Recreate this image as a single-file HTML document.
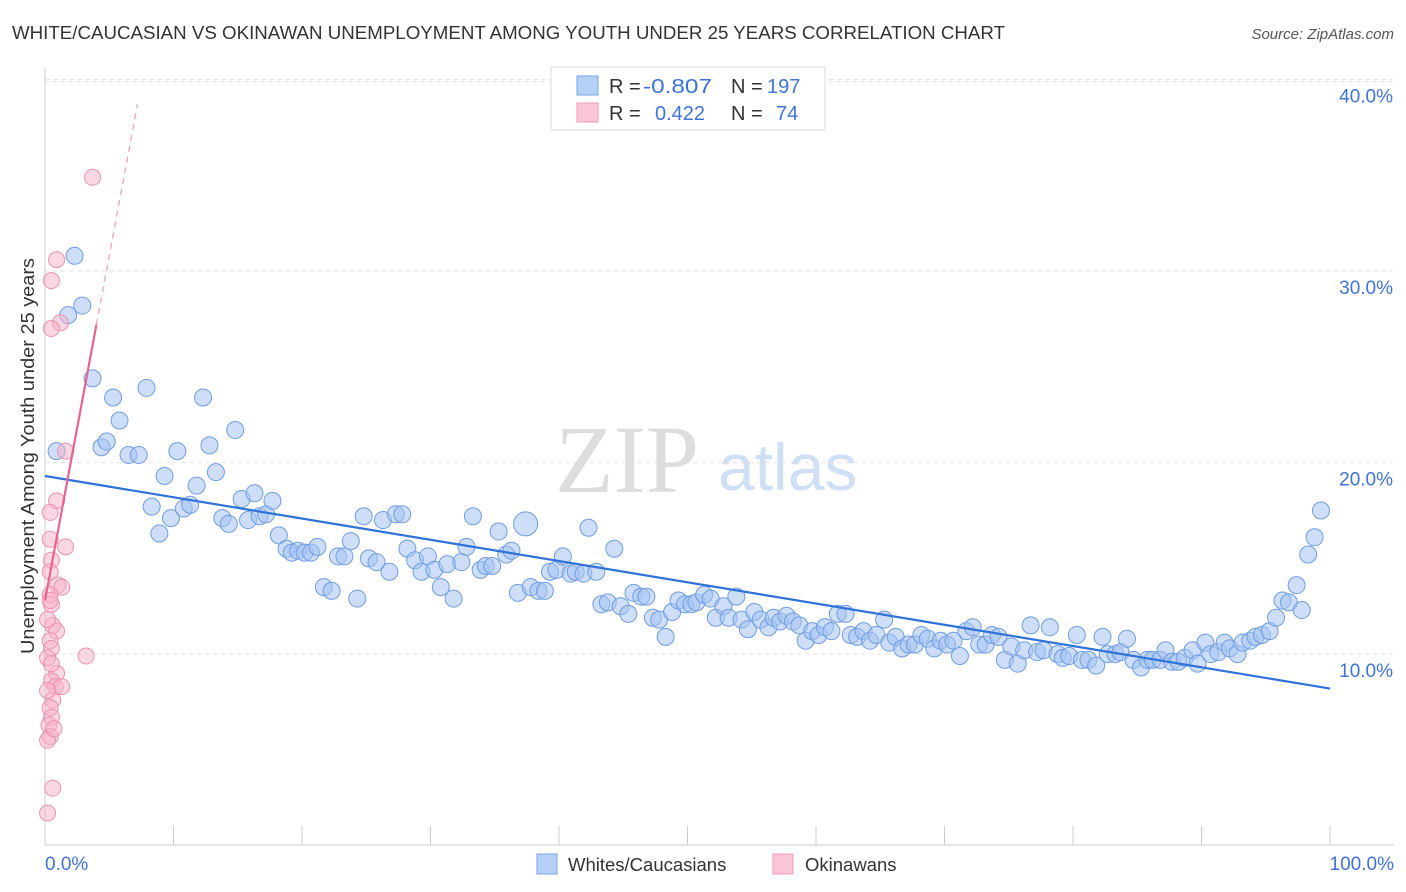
<!DOCTYPE html>
<html><head><meta charset="utf-8"><style>
body{margin:0;background:#fff;width:1406px;height:892px;overflow:hidden;font-family:"Liberation Sans",sans-serif}
svg{position:absolute;left:0;top:0}
</style></head><body>
<svg id="chart" width="1406" height="892">
<text x="12" y="39" font-size="18" fill="#333" textLength="993" lengthAdjust="spacingAndGlyphs">WHITE/CAUCASIAN VS OKINAWAN UNEMPLOYMENT AMONG YOUTH UNDER 25 YEARS CORRELATION CHART</text>
<text x="1394" y="39" font-size="15" fill="#555" font-style="italic" text-anchor="end">Source: ZipAtlas.com</text>
<text x="555" y="492" font-size="96" fill="#ddd" font-family="Liberation Serif,serif">ZIP</text>
<text x="718" y="490" font-size="66" fill="#cfe0f5">atlas</text>
<text x="-654" y="34" transform="rotate(-90)" font-size="18" fill="#333" textLength="396" lengthAdjust="spacingAndGlyphs">Unemployment Among Youth under 25 years</text>
<g id="grid"></g><g id="pts"></g><g id="trend"></g>
<g>
<rect x="551" y="67" width="274" height="63" fill="#fff" stroke="#ddd"/>
<rect x="577" y="76" width="21" height="19" fill="#b7d0f5" stroke="#7aa6e6"/>
<rect x="577" y="103" width="21" height="19" fill="#f9c7d7" stroke="#ee9ab5"/>
<text x="609" y="93" font-size="20" fill="#333">R = <tspan x="643" fill="#3f74d6" textLength="69" lengthAdjust="spacingAndGlyphs">-0.807</tspan><tspan x="731">N = </tspan><tspan x="767" fill="#3f74d6">197</tspan></text>
<text x="609" y="120" font-size="20" fill="#333">R = <tspan x="655" fill="#3f74d6">0.422</tspan><tspan x="731">N = </tspan><tspan x="776" fill="#3f74d6">74</tspan></text>
</g>
<g>
<rect x="537" y="854" width="20" height="20" fill="#b7d0f5" stroke="#7aa6e6"/>
<text x="568" y="871" font-size="18.5" fill="#333">Whites/Caucasians</text>
<rect x="773" y="854" width="20" height="20" fill="#f9c7d7" stroke="#ee9ab5"/>
<text x="805" y="871" font-size="18.5" fill="#333">Okinawans</text>
</g>
</svg>
<script>
const yTicks=[10,20,30,40];
const xTickLabels=["0.0%","100.0%"];
const blueX=[2.3,2.9,1.8,3.7,0.9,4.4,4.8,5.3,5.8,6.5,7.3,7.9,8.3,8.9,9.3,9.8,10.3,10.8,11.3,11.8,12.3,12.8,13.3,13.8,14.3,14.8,15.3,15.8,16.3,16.7,17.2,17.7,18.2,18.8,19.2,19.7,20.2,20.7,21.2,21.7,22.3,22.8,23.3,23.8,24.3,24.8,25.2,25.8,26.3,26.8,27.3,27.8,28.2,28.8,29.3,29.8,30.3,30.8,31.3,31.8,32.4,32.8,33.3,33.9,34.3,34.8,35.3,35.9,36.3,36.8,37.4,37.8,38.4,38.9,39.3,39.8,40.3,40.9,41.3,41.9,42.3,42.9,43.3,43.8,44.3,44.8,45.4,45.8,46.4,46.8,47.3,47.8,48.3,48.8,49.3,49.8,50.3,50.7,51.3,51.8,52.2,52.8,53.2,53.8,54.2,54.7,55.2,55.7,56.3,56.7,57.2,57.7,58.2,58.7,59.2,59.7,60.2,60.7,61.2,61.7,62.3,62.7,63.2,63.7,64.2,64.7,65.3,65.7,66.2,66.7,67.2,67.7,68.2,68.7,69.2,69.7,70.2,70.7,71.2,71.7,72.2,72.7,73.2,73.7,74.2,74.7,75.2,75.7,76.2,76.7,77.2,77.7,78.2,78.8,79.2,79.7,80.3,80.7,81.2,81.8,82.3,82.7,83.3,83.7,84.2,84.7,85.3,85.8,86.2,86.8,87.2,87.7,88.2,88.7,89.3,89.7,90.3,90.7,91.3,91.8,92.2,92.8,93.2,93.8,94.2,94.7,95.3,95.8,96.3,96.8,97.4,97.8,98.3,98.8,99.3];
const blueY=[30.8,28.2,27.7,24.4,20.6,20.8,21.1,23.4,22.2,20.4,20.4,23.9,17.7,16.3,19.3,17.1,20.6,17.6,17.8,18.8,23.4,20.9,19.5,17.1,16.8,21.7,18.1,17.0,18.4,17.2,17.3,18.0,16.2,15.5,15.3,15.4,15.3,15.3,15.6,13.5,13.3,15.1,15.1,15.9,12.9,17.2,15.0,14.8,17.0,14.3,17.3,17.3,15.5,14.9,14.3,15.1,14.4,13.5,14.7,12.9,14.8,15.6,17.2,14.4,14.6,14.6,16.4,15.2,15.4,13.2,16.8,13.5,13.3,13.3,14.3,14.4,15.1,14.2,14.3,14.2,16.6,14.3,12.6,12.7,15.5,12.5,12.1,13.2,13.0,13.0,11.9,11.8,10.9,12.2,12.8,12.6,12.6,12.7,13.1,12.9,11.9,12.5,11.9,13.0,11.8,11.3,12.2,11.8,11.4,11.9,11.7,12.0,11.7,11.5,10.7,11.2,11.0,11.4,11.2,12.1,12.1,11.0,10.9,11.2,10.7,11.0,11.8,10.6,10.9,10.3,10.5,10.5,11.0,10.8,10.3,10.7,10.5,10.7,9.9,11.2,11.4,10.5,10.5,11.0,10.9,9.7,10.4,9.5,10.2,11.5,10.1,10.2,11.4,10.0,9.8,9.9,11.0,9.7,9.7,9.4,10.9,10.0,10.0,10.1,10.8,9.7,9.3,9.7,9.7,9.7,10.2,9.6,9.6,9.8,10.2,9.5,10.6,10.0,10.1,10.6,10.3,10.0,10.6,10.7,10.9,11.0,11.2,11.9,12.8,12.7,13.6,12.3,15.2,16.1,17.5];
const pinkX=[3.7,0.9,0.5,1.2,0.5,1.6,0.9,0.4,1.6,0.4,0.5,0.4,1.0,1.3,0.4,0.5,0.6,0.9,0.4,0.5,0.2,3.2,0.9,0.5,0.8,1.3,0.6,0.4,0.5,0.3,0.4,0.2,0.6,0.2,0.4,0.2,0.5,0.2,0.7];
const pinkY=[34.9,30.6,29.5,27.3,27.0,20.6,18.0,17.4,15.6,16.0,14.9,14.3,13.6,13.5,13.1,12.6,11.5,11.2,10.7,10.3,9.8,9.9,9.0,8.6,8.3,8.3,7.6,7.2,6.7,6.3,5.7,5.5,3.0,1.7,12.8,11.8,9.5,8.1,6.1];
const blueTrend=[19.3,8.2];
const pinkTrend=[12.8,3.6];
const NS="http://www.w3.org/2000/svg";
const X=v=>45+v*12.85, Y=v=>845.6-v*19.15;
function mk(t,a,p){const e=document.createElementNS(NS,t);for(const k in a)e.setAttribute(k,a[k]);p.appendChild(e);return e;}
const grid=document.getElementById('grid');
let ax=mk('line',{x1:45,y1:68,x2:45,y2:845,stroke:'#ccc'},grid);


let bx=mk('line',{x1:45,y1:845,x2:1394,y2:845,stroke:'#ccc'},grid);


mk('line',{x1:45,y1:Y(39.9),x2:1394,y2:Y(39.9),stroke:'#e3e3e3','stroke-dasharray':'4 4'},grid);
yTicks.forEach(t=>{
  const l=mk('line',{x1:45,y1:Y(t),x2:1394,y2:Y(t),stroke:'#e3e3e3','stroke-dasharray':'4 4'},grid);
  
  
  const tx=mk('text',{x:1393,y:Y(t)+23,'font-size':19,fill:'#3f74d6','text-anchor':'end'},grid);
  tx.textContent=t.toFixed(1)+'%';
  
  
});
for(let i=0;i<=10;i++){const l=mk('line',{x1:X(i*10),y1:826,x2:X(i*10),y2:845,stroke:'#ccc'},grid);
  
  }
[[0,xTickLabels[0],'start',45],[100,xTickLabels[1],'end',1394]].forEach(d=>{
  const t=mk('text',{x:d[3],y:870,'font-size':19,fill:'#3f74d6','text-anchor':d[2]},grid);t.textContent=d[1];
  
  
});
const pts=document.getElementById('pts');
blueX.forEach((x,i)=>{const big=(i===70);const c=mk('circle',{cx:X(x),cy:Y(blueY[i]),r:big?12:8.5,fill:'rgba(165,195,242,0.55)',stroke:'#6f9de2','stroke-width':1},pts);
  
  });
pinkX.forEach((x,i)=>{const c=mk('circle',{cx:X(x),cy:Y(pinkY[i]),r:8,fill:'rgba(247,175,200,0.5)',stroke:'#eb92b0','stroke-width':1},pts);
  
  });
const tr=document.getElementById('trend');
const bl=mk('line',{x1:X(0),y1:Y(blueTrend[0]),x2:X(100),y2:Y(blueTrend[1]),stroke:'#2f72d8','stroke-width':2.2},tr);


const pl=mk('line',{x1:X(0),y1:Y(pinkTrend[0]),x2:X(4),y2:Y(pinkTrend[0]+4*pinkTrend[1]),stroke:'#e8638f','stroke-width':2.2},tr);


const pd=mk('line',{x1:X(4),y1:Y(pinkTrend[0]+4*pinkTrend[1]),x2:X(7.2),y2:Y(pinkTrend[0]+7.2*pinkTrend[1]),stroke:'#ee9ab5','stroke-width':1.2,'stroke-dasharray':'6 5'},tr);


</script>
</body></html>
